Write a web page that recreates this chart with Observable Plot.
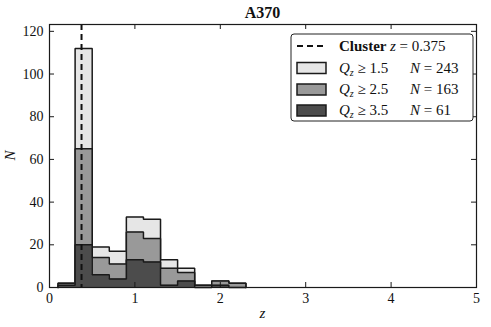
<!DOCTYPE html>
<html>
<head>
<meta charset="utf-8">
<script src="https://cdn.jsdelivr.net/npm/d3@7"></script>
<script src="https://cdn.jsdelivr.net/npm/@observablehq/plot@0.6"></script>
<style>
  html, body { margin: 0; padding: 0; background: #fff; }
  #chart { position: relative; width: 491px; height: 327px; }
</style>
</head>
<body>
<div id="chart"></div>
<script>
const title = "A370";
const binEdges = [0.1, 0.3, 0.5, 0.7, 0.9, 1.1, 1.3, 1.5, 1.7, 1.9, 2.1, 2.3];
const countsQ15 = [2, 112, 19, 17, 33, 32, 13, 9, 1, 3, 2];
const countsQ25 = [2, 65, 14, 11, 26, 23, 9, 7, 1, 3, 2];
const countsQ35 = [1, 20, 6, 4, 13, 12, 1, 3, 0, 1, 0];
const clusterZ = 0.375;
const seriesLabels = ["1.5", "2.5", "3.5"];
const seriesN = [243, 163, 61];
const seriesColors = ["#e6e6e6", "#999999", "#4c4c4c"];
const xTicks = [0, 1, 2, 3, 4, 5];
const yTicks = [0, 20, 40, 60, 80, 100, 120];
const xDomain = [0, 5];
const yDomain = [0, 123.2];

const W = 491, H = 327;
const mT = 24, mB = 40, mL = 49, mR = 15;
const innerH = H - mT - mB, innerW = W - mL - mR;
const edge = "#1a1a1a";
const font = "Liberation Serif, DejaVu Serif, serif";

function stepPoints(vals) {
  const pts = [{x: binEdges[0], y: 0}];
  vals.forEach((v, i) => {
    pts.push({x: binEdges[i], y: v});
    pts.push({x: binEdges[i + 1], y: v});
  });
  pts.push({x: binEdges[binEdges.length - 1], y: 0});
  return pts;
}

const series = [countsQ15, countsQ25, countsQ35];
const histMarks = [];
series.forEach((vals, k) => {
  const pts = stepPoints(vals);
  histMarks.push(Plot.areaY(pts, {x: "x", y1: 0, y2: "y", fill: seriesColors[k]}));
  histMarks.push(Plot.line(pts, {x: "x", y: "y", stroke: edge, strokeWidth: 1.5, strokeLinejoin: "miter"}));
});

const tk = 5;
const plot = Plot.plot({
  width: W, height: H,
  marginTop: mT, marginBottom: mB, marginLeft: mL, marginRight: mR,
  style: {fontFamily: font, fontSize: "14px", color: "#111", background: "#fff"},
  x: {domain: xDomain},
  y: {domain: yDomain},
  marks: [
    ...histMarks,
    Plot.ruleX([clusterZ], {stroke: "#111", strokeWidth: 2, strokeDasharray: "6,4"}),
    Plot.tickX(xTicks, {x: d => d, stroke: edge, insetTop: innerH - tk}),
    Plot.tickX(xTicks, {x: d => d, stroke: edge, insetBottom: innerH - tk}),
    Plot.tickY(yTicks, {y: d => d, stroke: edge, insetRight: innerW - tk}),
    Plot.tickY(yTicks, {y: d => d, stroke: edge, insetLeft: innerW - tk}),
    Plot.axisX(xTicks, {tickSize: 0, tickPadding: 6, label: null, fontSize: 14}),
    Plot.axisY(yTicks, {tickSize: 0, tickPadding: 6, label: null, fontSize: 14}),
    Plot.frame({stroke: edge, strokeWidth: 1.2})
  ]
});

document.getElementById("chart").appendChild(plot);

const svg = d3.select(plot);
svg.attr("font-family", font);
// Title
svg.append("text")
  .attr("x", mL + innerW / 2).attr("y", 18)
  .attr("text-anchor", "middle")
  .attr("font-family", font).attr("font-weight", "bold").attr("font-size", 16)
  .attr("fill", "#111").text(title);
// Axis labels
svg.append("text")
  .attr("x", mL + innerW / 2).attr("y", 318)
  .attr("text-anchor", "middle")
  .attr("font-family", font).attr("font-style", "italic").attr("font-size", 15)
  .attr("fill", "#111").text("z");
svg.append("text")
  .attr("transform", `translate(15,${mT + innerH / 2}) rotate(-90)`)
  .attr("text-anchor", "middle")
  .attr("font-family", font).attr("font-style", "italic").attr("font-size", 15)
  .attr("fill", "#111").text("N");

// Legend
const lg = svg.append("g").attr("transform", "translate(291,34)").attr("text-anchor", "start");
lg.append("rect").attr("x", 0).attr("y", 0).attr("width", 182).attr("height", 87)
  .attr("rx", 3).attr("fill", "#fff").attr("stroke", "#222").attr("stroke-width", 1);
const rowY = [12, 33.5, 55, 76];
lg.append("line").attr("x1", 6).attr("x2", 35).attr("y1", rowY[0]).attr("y2", rowY[0])
  .attr("stroke", "#111").attr("stroke-width", 2).attr("stroke-dasharray", "6,4");
const t0 = lg.append("text").attr("x", 48).attr("y", rowY[0] + 5).attr("text-anchor", "start")
  .attr("font-family", font).attr("font-size", 15).attr("fill", "#111");
t0.append("tspan").attr("font-weight", "bold").text("Cluster ");
t0.append("tspan").attr("font-style", "italic").text("z");
t0.append("tspan").text(" = " + clusterZ);
seriesLabels.forEach((lab, k) => {
  const y = rowY[k + 1];
  lg.append("rect").attr("x", 6).attr("y", y - 5).attr("width", 29).attr("height", 11)
    .attr("fill", seriesColors[k]).attr("stroke", edge).attr("stroke-width", 1.5);
  const t = lg.append("text").attr("x", 48).attr("y", y + 5).attr("text-anchor", "start")
    .attr("font-family", font).attr("font-size", 15).attr("fill", "#111");
  t.append("tspan").attr("font-style", "italic").text("Q");
  t.append("tspan").attr("font-style", "italic").attr("font-size", 10).attr("dy", 3).text("z");
  t.append("tspan").attr("dy", -3).text(" \u2265 " + lab);
  const t2 = lg.append("text").attr("x", 119).attr("y", y + 5).attr("text-anchor", "start")
    .attr("font-family", font).attr("font-size", 15).attr("fill", "#111");
  t2.append("tspan").attr("font-style", "italic").text("N");
  t2.append("tspan").text(" = " + seriesN[k]);
});
svg.selectAll("text").style("font-family", font);
</script>
</body>
</html>
